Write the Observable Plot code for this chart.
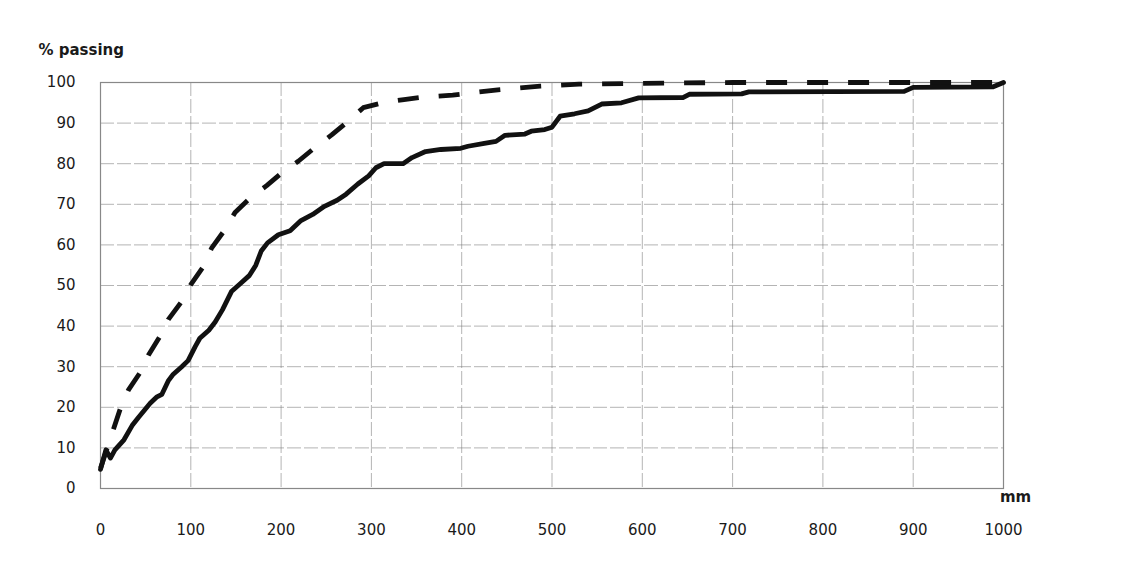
<!DOCTYPE html>
<html>
<head>
<meta charset="utf-8">
<script src="https://cdn.jsdelivr.net/npm/d3@7"></script>
<script src="https://cdn.jsdelivr.net/npm/@observablehq/plot@0.6"></script>
<style>
  html, body { margin: 0; padding: 0; background: #fff; }
  #chart { width: 1130px; height: 570px; }
</style>
</head>
<body>
<div id="chart"></div>
<script>
// Solid curve: size (mm) vs % passing
const solidSize = [0, 6, 11, 16, 26, 35, 42, 55, 62, 68, 75, 80, 90, 97, 105, 110, 120, 127, 135, 145, 155, 165, 172, 178, 185, 197, 210, 222, 235, 248, 262, 272, 285, 297, 305, 314, 335, 345, 360, 377, 399, 407, 425, 438, 448, 470, 477, 492, 500, 509, 525, 540, 555, 577, 596, 645, 652, 710, 718, 890, 900, 988, 1000];
const solidPass = [4.7, 9.5, 7.5, 9.5, 12, 15.5, 17.5, 21, 22.5, 23.2, 26.5, 28, 30, 31.5, 35, 37, 39, 41, 44, 48.5, 50.5, 52.5, 55, 58.5, 60.5, 62.5, 63.5, 66, 67.5, 69.5, 71, 72.5, 75, 77, 79, 80, 80, 81.5, 83, 83.5, 83.8, 84.3, 85, 85.5, 87, 87.3, 88, 88.4, 89, 91.7, 92.3, 93, 94.7, 95, 96.2, 96.3, 97.1, 97.2, 97.7, 97.8, 98.8, 98.9, 100];

// Dashed curve
const dashSize = [0, 22, 31, 44, 53, 66, 75, 90, 100, 114, 123, 138, 149, 167, 184, 201, 219, 237, 256, 274, 291, 312, 336, 358, 390, 440, 487, 530, 600, 700, 1000];
const dashPass = [5, 19.7, 24.3, 28.6, 32.8, 37.5, 41.6, 46.1, 50.2, 54.7, 59.2, 63.8, 68, 71.8, 74.6, 77.8, 80.6, 83.9, 87.1, 90.4, 93.8, 95, 95.8, 96.4, 96.9, 98.2, 99.1, 99.6, 99.8, 100, 100];

const xTicks = [0, 100, 200, 300, 400, 500, 600, 700, 800, 900, 1000];
const yTicks = [0, 10, 20, 30, 40, 50, 60, 70, 80, 90, 100];
const yTitle = "% passing";
const xUnit = "mm";

const solid = solidSize.map((s, i) => ({size: s, pass: solidPass[i]}));
const dashed = dashSize.map((s, i) => ({size: s, pass: dashPass[i]}));

const chart = Plot.plot({
  width: 1130,
  height: 570,
  marginTop: 82,
  marginBottom: 82,
  marginLeft: 100,
  marginRight: 127,
  style: {fontFamily: "'DejaVu Sans', sans-serif", fontSize: "15px", color: "#1a1a1a", background: "#fff"},
  x: {domain: [0, 1000]},
  y: {domain: [0, 100]},
  marks: [
    Plot.gridX(xTicks, {stroke: "#777", strokeOpacity: 0.55, strokeWidth: 1, strokeDasharray: "14,3"}),
    Plot.gridY(yTicks, {stroke: "#777", strokeOpacity: 0.55, strokeWidth: 1, strokeDasharray: "14,3"}),
    Plot.frame({stroke: "#888", strokeWidth: 1.2}),
    Plot.axisX(xTicks, {tickSize: 0, tickPadding: 36, label: null, fontSize: 15, tickFormat: d => String(d)}),
    Plot.axisY(yTicks, {tickSize: 0, tickPadding: 25, label: null, fontSize: 15, tickFormat: d => String(d)}),
    Plot.line(dashed, {x: "size", y: "pass", stroke: "#111", strokeWidth: 4.8, strokeDasharray: "21,20", strokeLinecap: "butt", strokeLinejoin: "round"}),
    Plot.line(solid, {x: "size", y: "pass", stroke: "#111", strokeWidth: 4.8, strokeLinejoin: "round", strokeLinecap: "round"}),
    Plot.text([yTitle], {frameAnchor: "top-left", dx: -62, dy: -38, textAnchor: "start", fontWeight: "bold", fontSize: 15}),
    Plot.text([xUnit], {frameAnchor: "bottom-right", dx: 12, dy: 13, textAnchor: "middle", fontWeight: "bold", fontSize: 15})
  ]
});
document.getElementById("chart").appendChild(chart);
</script>
</body>
</html>
